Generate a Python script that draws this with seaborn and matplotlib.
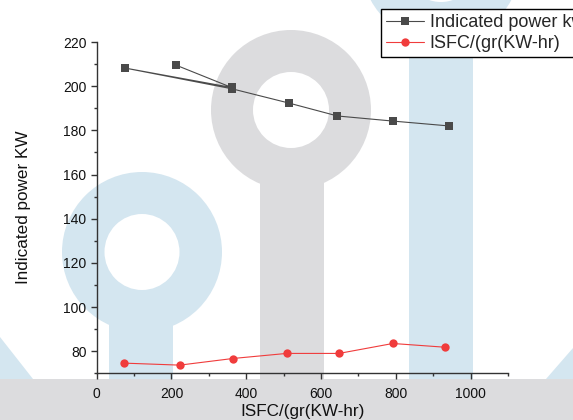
import matplotlib
matplotlib.use("Agg")
import matplotlib.pyplot as plt
from matplotlib.patches import Ellipse, Rectangle, Polygon
import seaborn as sns
import pandas as pd

# ---- data ----
power_x = [211, 361, 76, 362, 513, 644, 792, 942]
power_y = [209.6, 199.4, 208.2, 198.8, 192.4, 186.5, 184.2, 182.0]
isfc_x = [74, 222, 364, 508, 648, 792, 932]
isfc_y = [74.6, 73.7, 76.7, 79.0, 79.0, 83.5, 81.8]
label_power = "Indicated power kw"
label_isfc = "ISFC/(gr(KW-hr)"
x_label = "ISFC/(gr(KW-hr)"
y_label = "Indicated power KW"
x_ticks = [0, 200, 400, 600, 800, 1000]
y_ticks = [80, 100, 120, 140, 160, 180, 200, 220]

sns.set_theme(style="ticks")
plt.rcParams["font.family"] = ["Liberation Sans", "DejaVu Sans"]

W, H = 573, 420
fig = plt.figure(figsize=(W / 100, H / 100), dpi=100)

# ---- watermark background (decoration) ----
bg = fig.add_axes([0, 0, 1, 1], zorder=-1)
bg.set_xlim(0, W)
bg.set_ylim(H, 0)
bg.axis("off")
blue = "#d4e6f0"
grey = "#dcdcde"
bg.add_patch(Polygon([[0, 337], [33, 379], [0, 379]], closed=True, color=blue, lw=0))
bg.add_patch(Polygon([[546, 379], [573, 348], [573, 379]], closed=True, color=blue, lw=0))
bg.add_patch(Rectangle((409, 0), 64, 379, color=blue, lw=0))
bg.add_patch(Ellipse((441, -38), 160, 160, color=blue, lw=0))
bg.add_patch(Ellipse((441, -38), 76, 80, color="white", lw=0))
bg.add_patch(Ellipse((142, 252), 160, 160, color=blue, lw=0))
bg.add_patch(Rectangle((109, 300), 64, 79, color=blue, lw=0))
bg.add_patch(Ellipse((142, 252), 75, 76, color="white", lw=0))
bg.add_patch(Ellipse((291, 110), 160, 160, color=grey, lw=0))
bg.add_patch(Rectangle((259.5, 160), 64, 219, color=grey, lw=0))
bg.add_patch(Ellipse((291, 110), 76, 76, color="white", lw=0))
bg.add_patch(Rectangle((0, 379), W, H - 379, color=grey, lw=0))

# ---- main axes ----
x0, x1, y0, y1 = 96.7, 508, 373.3, 42
ax = fig.add_axes([x0 / W, 1 - y0 / H, (x1 - x0) / W, (y0 - y1) / H])
ax.set_facecolor("none")

df_p = pd.DataFrame({"x": power_x, "y": power_y})
df_i = pd.DataFrame({"x": isfc_x, "y": isfc_y})

sns.lineplot(data=df_p, x="x", y="y", sort=False, estimator=None, ax=ax,
             color="#4a4a4a", marker="s", markersize=6, markeredgewidth=0,
             linewidth=0.8, label=label_power)
sns.lineplot(data=df_i, x="x", y="y", sort=False, estimator=None, ax=ax,
             color="#f03c3c", marker="o", markersize=6, markeredgewidth=0,
             linewidth=0.8, label=label_isfc)

ax.set_xlim(0, 1100)
ax.set_ylim(70, 220)
ax.set_xticks(x_ticks)
ax.set_yticks(y_ticks)
ax.set_xticks(range(100, 1101, 200), minor=True)
ax.set_yticks(range(70, 221, 20), minor=True)
ax.tick_params(axis="both", which="major", direction="out", length=4.3, width=1,
               labelsize=10, color="#333333", labelcolor="#111111")
ax.tick_params(axis="x", which="major", pad=5.5)
ax.tick_params(axis="y", which="major", pad=3)
ax.tick_params(axis="both", which="minor", direction="out", length=2.2, width=1,
               color="#333333")
for s in ["top", "right"]:
    ax.spines[s].set_visible(False)
for s in ["left", "bottom"]:
    ax.spines[s].set_color("#333333")
    ax.spines[s].set_linewidth(1)

ax.set_xlabel(x_label, fontsize=12.3, labelpad=2.5, color="#111111")
ax.set_ylabel(y_label, fontsize=12.3, color="#111111")
ax.yaxis.set_label_coords((31 - x0) / (x1 - x0), 0.5)

leg = ax.legend(loc="upper left", bbox_to_anchor=(381 / W, 1 - 9 / H),
                bbox_transform=fig.transFigure, fontsize=13, frameon=True,
                fancybox=False, edgecolor="black", framealpha=1,
                borderpad=0.3, labelspacing=0.2, handlelength=2.1,
                handletextpad=0.3, borderaxespad=0)
leg.get_frame().set_linewidth(1)

fig.savefig("out.png", dpi=100)
